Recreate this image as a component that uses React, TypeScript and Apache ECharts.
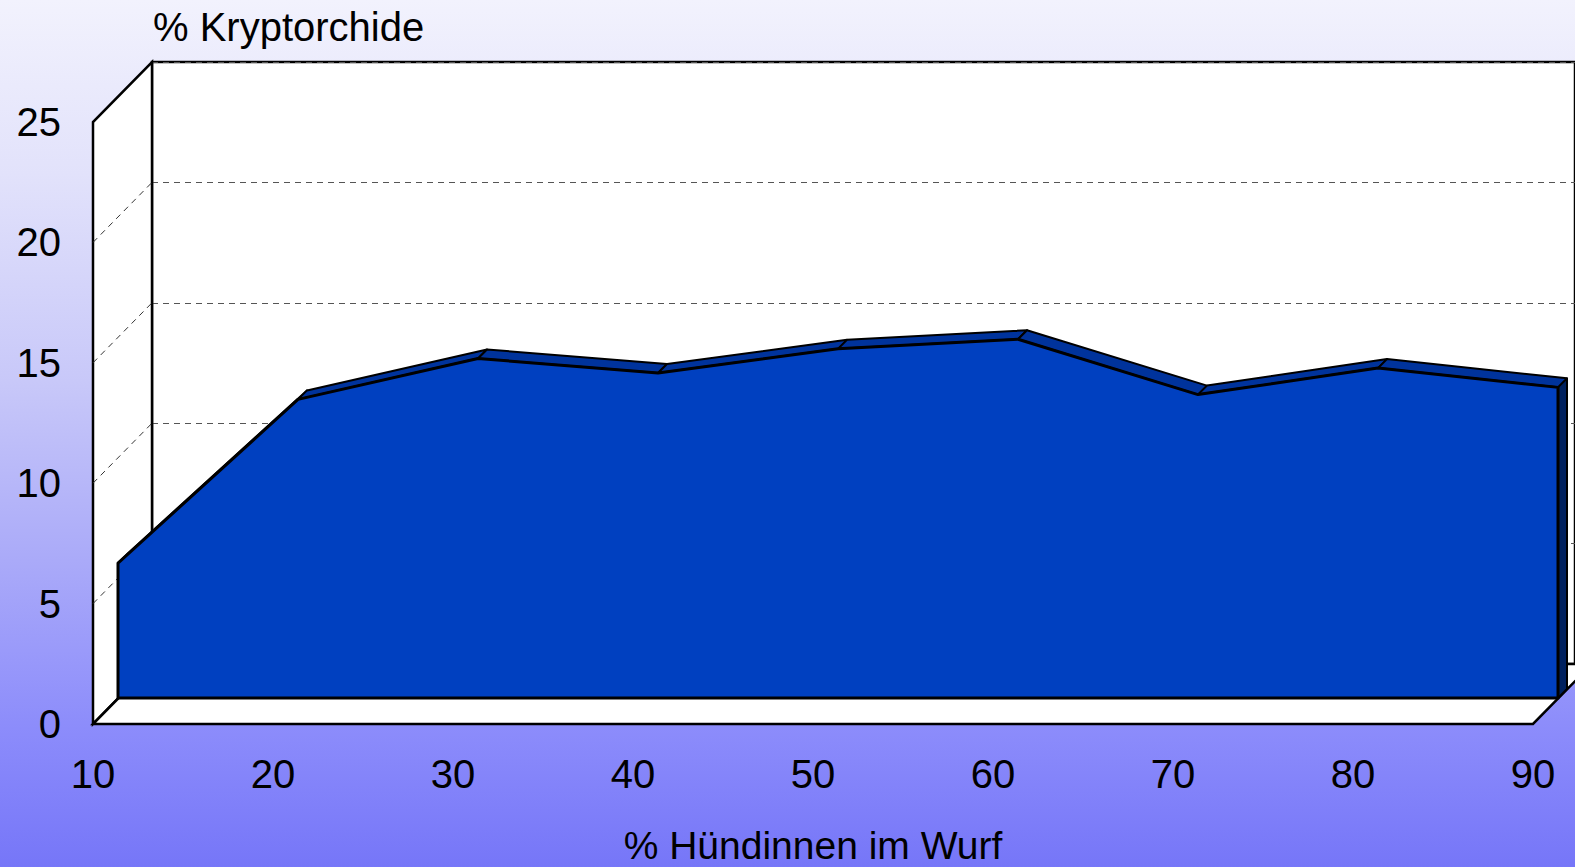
import React, { useEffect, useRef } from "react";
import * as echarts from "echarts";

const xCategories = [10, 20, 30, 40, 50, 60, 70, 80, 90];
const kryptorchideValues = [5.6, 12.4, 14.1, 13.5, 14.5, 14.9, 12.6, 13.7, 12.9];
const yTicks = [0, 5, 10, 15, 20, 25];
const yTitle = "% Kryptorchide";
const xTitle = "% Hündinnen im Wurf";

const FONT = "'Liberation Sans', Arial, Helvetica, sans-serif";
const WALL_DX = 59;
const WALL_DY = -60;
const AREA_DX = 25;
const AREA_DY = -26;
const DEPTH_DX = 9;
const DEPTH_DY = -9;

export default function App() {
  const ref = useRef<HTMLDivElement>(null);

  useEffect(() => {
    const chart = echarts.init(ref.current!, null, { renderer: "svg" });
    const xMin = xCategories[0];
    const xMax = xCategories[xCategories.length - 1];
    const yMin = yTicks[0];
    const yMax = yTicks[yTicks.length - 1];
    const yInterval = yTicks[1] - yTicks[0];
    const xInterval = xCategories[1] - xCategories[0];

    const mkP = (api: any) => (x: number, y: number, dx = 0, dy = 0) => {
      const c = api.coord([x, y]);
      return [c[0] + dx, c[1] + dy];
    };

    const wallsRender = (params: any, api: any) => {
      if (params.dataIndex !== 0) return null;
      const p = mkP(api);
      const children: any[] = [];
      children.push({
        type: "polygon",
        shape: {
          points: [p(xMin, yMin), p(xMin, yMax), p(xMin, yMax, WALL_DX, WALL_DY), p(xMin, yMin, WALL_DX, WALL_DY)],
        },
        style: { fill: "#ffffff", stroke: "#000000", lineWidth: 2.5, lineJoin: "miter" },
      });
      children.push({
        type: "polygon",
        shape: {
          points: [p(xMin, yMin), p(xMax, yMin), p(xMax, yMin, WALL_DX, WALL_DY), p(xMin, yMin, WALL_DX, WALL_DY)],
        },
        style: { fill: "#ffffff", stroke: "#000000", lineWidth: 2.5, lineJoin: "miter" },
      });
      yTicks.slice(1, -1).forEach((v) => {
        const a = p(xMin, v);
        const b = p(xMin, v, WALL_DX, WALL_DY);
        children.push({
          type: "line",
          shape: { x1: a[0], y1: a[1], x2: b[0], y2: b[1] },
          style: { stroke: "#333333", lineWidth: 1, lineDash: [6, 5] },
        });
      });
      return { type: "group", children };
    };

    const areaRender = (params: any, api: any) => {
      if (params.dataIndex !== 0) return null;
      const p = mkP(api);
      const n = kryptorchideValues.length;
      const front = xCategories.map((x, i) => p(x, kryptorchideValues[i], AREA_DX, AREA_DY));
      const back = front.map((pt) => [pt[0] + DEPTH_DX, pt[1] + DEPTH_DY]);
      const base0 = p(xMin, 0, AREA_DX, AREA_DY);
      const base1 = p(xMax, 0, AREA_DX, AREA_DY);
      const children: any[] = [];
      for (let i = 0; i < n - 1; i++) {
        children.push({
          type: "polygon",
          z2: 1,
          shape: { points: [front[i], front[i + 1], back[i + 1], back[i]] },
          style: { fill: "#00339c", stroke: "#000000", lineWidth: 2, lineJoin: "round" },
        });
      }
      children.push({
        type: "polygon",
        z2: 2,
        shape: { points: [base1, front[n - 1], back[n - 1], [base1[0] + DEPTH_DX, base1[1] + DEPTH_DY]] },
        style: { fill: "#00215f", stroke: "#000000", lineWidth: 2, lineJoin: "round" },
      });
      children.push({
        type: "polygon",
        z2: 3,
        shape: { points: [base0, ...front, base1] },
        style: { fill: "#0040c0", stroke: "#000000", lineWidth: 3, lineJoin: "round" },
      });
      return { type: "group", children };
    };

    const seriesData = kryptorchideValues.map((v, i) => [xCategories[i], v]);

    chart.setOption({
      animation: false,
      backgroundColor: "transparent",
      grid: [
        {
          left: 152,
          top: 62,
          width: 1440,
          height: 602,
          show: true,
          backgroundColor: "#ffffff",
          borderColor: "#000000",
          borderWidth: 2.5,
        },
        { left: 93, top: 122, width: 1440, height: 602 },
      ],
      xAxis: [
        { gridIndex: 0, type: "value", min: xMin, max: xMax, interval: xInterval, show: false },
        {
          gridIndex: 1,
          type: "value",
          min: xMin,
          max: xMax,
          interval: xInterval,
          axisLine: { show: false },
          axisTick: { show: false },
          splitLine: { show: false },
          axisLabel: { fontSize: 40, color: "#000", fontFamily: FONT, margin: 30 },
        },
      ],
      yAxis: [
        {
          gridIndex: 0,
          type: "value",
          min: yMin,
          max: yMax,
          interval: yInterval,
          axisLine: { show: false },
          axisTick: { show: false },
          axisLabel: { show: false },
          splitLine: { show: true, lineStyle: { color: "#555555", width: 1, type: [6, 5] } },
        },
        {
          gridIndex: 1,
          type: "value",
          min: yMin,
          max: yMax,
          interval: yInterval,
          axisLine: { show: false },
          axisTick: { show: false },
          splitLine: { show: false },
          axisLabel: { fontSize: 40, color: "#000", fontFamily: FONT, margin: 32 },
        },
      ],
      graphic: [
        {
          type: "text",
          left: 153,
          top: 7,
          style: { text: yTitle, font: `40px ${FONT}`, fill: "#000" },
        },
        {
          type: "text",
          x: 813,
          y: 845,
          style: { text: xTitle, font: `39px ${FONT}`, fill: "#000", align: "center", verticalAlign: "middle" },
        },
      ],
      series: [
        {
          type: "custom",
          name: "walls",
          xAxisIndex: 1,
          yAxisIndex: 1,
          clip: false,
          z: 2,
          silent: true,
          data: [[xMin, yMin]],
          renderItem: wallsRender,
        },
        {
          type: "custom",
          name: yTitle,
          xAxisIndex: 1,
          yAxisIndex: 1,
          clip: false,
          z: 3,
          data: seriesData,
          renderItem: areaRender,
        },
      ],
    });

    return () => {
      chart.dispose();
    };
  }, []);

  return (
    <div
      style={{
        position: "absolute",
        left: 0,
        top: 0,
        width: 1575,
        height: 867,
        background:
          "linear-gradient(to bottom, #f2f2fd 0%, #e2e2fb 20%, #c8c8f9 44%, #a8a8f9 66%, #8c8cfb 84%, #7676f8 100%)",
      }}
    >
      <div ref={ref} style={{ width: 1575, height: 867 }} />
    </div>
  );
}
